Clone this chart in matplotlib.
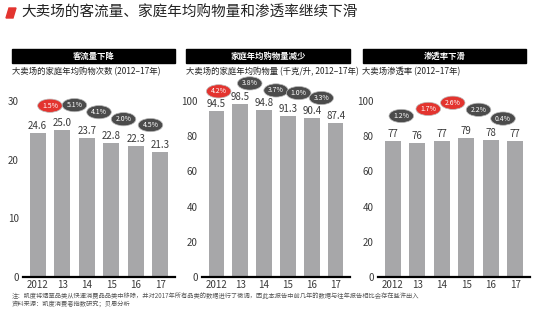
import matplotlib
matplotlib.use("Agg")
import matplotlib.pyplot as plt
from matplotlib.patches import Rectangle, Polygon

plt.rcParams['font.family'] = ['Noto Sans CJK SC', 'DejaVu Sans']

title = "大卖场的客流量、家庭年均购物量和渗透率继续下滑"
years = ["2012", "13", "14", "15", "16", "17"]

headers = ["客流量下降", "家庭年均购物量减少", "渗透率下滑"]
subtitles = ["大卖场的家庭年均购物次数 (2012–17年)",
             "大卖场的家庭年均购物量 (千克/升, 2012–17年)",
             "大卖场渗透率 (2012–17年)"]

trips = [24.6, 25.0, 23.7, 22.8, 22.3, 21.3]
volume = [94.5, 98.5, 94.8, 91.3, 90.4, 87.4]
penetration = [77, 76, 77, 79, 78, 77]

trips_change = ["1.5%", "5.1%", "4.1%", "2.0%", "4.5%"]
volume_change = ["4.2%", "3.8%", "3.7%", "1.0%", "3.3%"]
penetration_change = ["1.2%", "1.7%", "2.6%", "2.2%", "0.4%"]

notes = ["注：凯度将烟草品类从快速消费品品类中移除，并对2017年所有品类的数据进行了微调，因此本报告中前几年的数据与往年报告相比会存在些许出入",
         "资料来源：凯度消费者指数研究；贝恩分析"]

W, H = 550, 330
BAR = "#a7a7a9"
RED = "#e3342f"
DARK = "#4b4b4b"
TXT = "#3a3a3a"


def fx(x):
    return x / W


def fy(y):
    return 1 - y / H


fig = plt.figure(figsize=(W / 100, H / 100), dpi=100)

# title with small red marker
fig.patches.append(Polygon([[fx(6), fy(18)], [fx(9), fy(8)], [fx(16), fy(8)], [fx(13), fy(18)]],
                           closed=True, transform=fig.transFigure, color=RED))
fig.text(fx(21), fy(13), title, fontsize=10.5, color="#222222", va="center", ha="left")

# panel layout: axes left/right pixels, header left/right, y max, tick step, bubble spots
panels = [
    dict(values=trips, changes=trips_change, ax_lr=(23, 175), hd_lr=(12, 175), sub_x=12,
         ymax=30, step=10, bx=[0.5, 1.5, 2.5, 3.5, 4.6], by=[29.2, 29.3, 28.1, 26.9, 25.9], fmt="{:.1f}"),
    dict(values=volume, changes=volume_change, ax_lr=(202, 350), hd_lr=(186, 350), sub_x=186,
         ymax=100, step=20, bx=[0.1, 1.4, 2.5, 3.45, 4.4], by=[105.5, 110, 106, 104.5, 101.7], fmt="{:.1f}"),
    dict(values=penetration, changes=penetration_change, ax_lr=(378, 530), hd_lr=(363, 526), sub_x=362,
         ymax=100, step=20, bx=[0.35, 1.45, 2.45, 3.5, 4.5], by=[91.5, 95.5, 99, 95, 90], fmt="{:.0f}"),
]

base_px, top_px, tick_px = 277, 90, 101

for k, p in enumerate(panels):
    l, r = p["ax_lr"]
    ax = fig.add_axes([fx(l), fy(base_px), (r - l) / W, (base_px - top_px) / H])
    vals = p["values"]
    x = range(len(vals))
    ax.bar(x, vals, width=0.65, color=BAR, zorder=2)
    ylim_top = p["ymax"] * (base_px - top_px) / (base_px - tick_px)
    ax.set_ylim(0, ylim_top)
    ax.set_xlim(-0.6, 5.6)
    ax.set_yticks(range(0, p["ymax"] + 1, p["step"]))
    ax.set_xticks(list(x))
    ax.set_xticklabels(years)
    ax.tick_params(length=0, labelsize=7, colors=TXT, pad=3)
    ax.tick_params(axis="x", pad=2)
    for s in ["top", "right", "left"]:
        ax.spines[s].set_visible(False)
    ax.spines["bottom"].set_linewidth(1.6)
    ax.spines["bottom"].set_color("black")

    for i, v in enumerate(vals):
        ax.annotate(p["fmt"].format(v), (i, v), xytext=(0, 1.5), textcoords="offset points",
                    ha="center", va="bottom", fontsize=7, color=TXT)

    # year-on-year change bubbles, red where the value went up
    for i, lab in enumerate(p["changes"]):
        up = vals[i + 1] > vals[i]
        c = RED if up else DARK
        ax.text(p["bx"][i], p["by"][i], lab, ha="center", va="center", fontsize=5,
                color="white", clip_on=False, zorder=5,
                bbox=dict(boxstyle="ellipse,pad=0.1", fc=c, ec="#bbbbbb", lw=0.5))

    # black header strip
    hl, hr = p["hd_lr"]
    fig.patches.append(Rectangle((fx(hl), fy(63)), (hr - hl) / W, 14 / H,
                                 transform=fig.transFigure, color="black"))
    fig.text(fx((hl + hr) / 2), fy(56), headers[k], fontsize=6, color="white",
             ha="center", va="center", fontweight="bold")
    fig.text(fx(p["sub_x"]), fy(72), subtitles[k], fontsize=6, color="#222222",
             ha="left", va="center")

fig.text(fx(12), fy(296), notes[0], fontsize=4.5, color="#555555", ha="left", va="center")
fig.text(fx(12), fy(304), notes[1], fontsize=4.5, color="#555555", ha="left", va="center")

fig.savefig("out.png", dpi=100, facecolor="white")
